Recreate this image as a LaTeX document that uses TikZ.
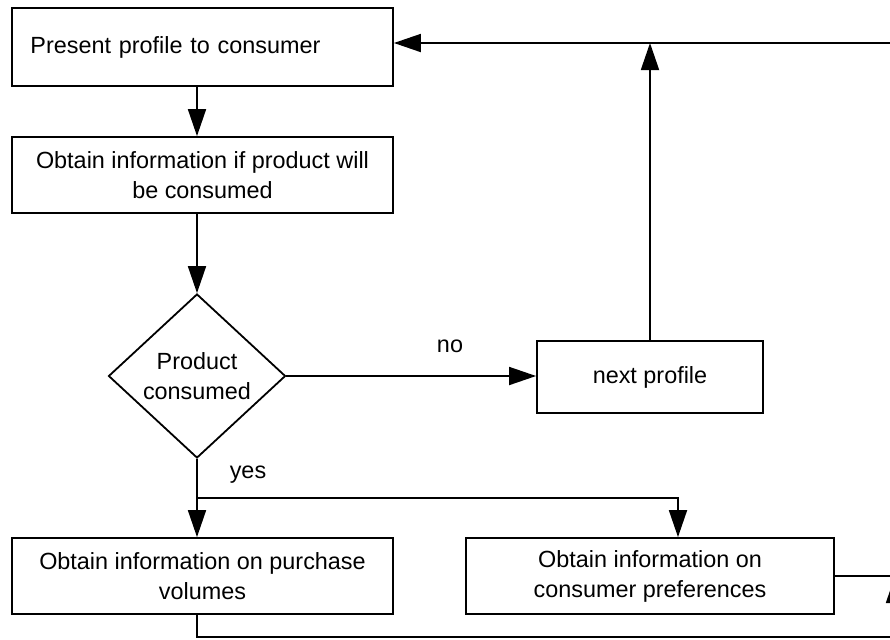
\documentclass[tikz,border=0pt]{standalone}
\usepackage{fontspec}
\setmainfont{Liberation Sans}
\usetikzlibrary{shapes.geometric}
\usetikzlibrary{arrows.meta}
\tikzset{box/.style={draw, line width=0.9pt, rectangle, inner sep=0pt, align=center,
  font=\fontsize{11.7}{15}\selectfont},
  lbl/.style={font=\fontsize{11.7}{15}\selectfont},
  arr/.style={line width=0.9pt, -{Triangle[length=13.5pt, width=9pt]}},
  ln/.style={line width=0.9pt}}

\begin{document}
\begin{tikzpicture}[x=0.5pt, y=-0.5pt]
	\useasboundingbox (0,0) rectangle (890,639);

	\node[box, minimum width=190.5pt, minimum height=39pt, text width=172pt, align=left] (present) at (202.5,47) {Present profile to consumer};
	\node[box, minimum width=190.5pt, minimum height=38pt] (obtain) at (202.5,175) {Obtain information if product will\\ be consumed};
	\node[box, diamond, minimum width=88.5pt, minimum height=82pt] (consumed) at (197,376) {Product\\ consumed};
	\node[box, minimum width=113pt, minimum height=36pt] (next) at (650,377) {next profile};
	\node[box, minimum width=190.5pt, minimum height=38pt] (volumes) at (202.5,576) {Obtain information on purchase\\ volumes};
	\node[box, minimum width=184pt, minimum height=38pt] (prefs) at (650,576) {Obtain information on\\ consumer preferences};

	\node[lbl] (no) at (450,346) {no};
	\node[lbl] (yes) at (248,475) {yes};

	\coordinate (loop) at (890,43);
	\coordinate (split) at (197,498);
	\coordinate (bend) at (678,498);
	\coordinate (back) at (895,637);
	\coordinate (out) at (905,576);

	\draw[arr] (present.south -| consumed.north) -- (obtain.north -| consumed.north);
	\draw[arr] (obtain.south -| consumed.north) -- (consumed.north);
	\draw[arr] (consumed.east) -- (consumed.east -| next.west);
	\draw[arr] (next.north) -- (next.north |- loop);
	\draw[arr] (loop) -- (loop -| present.east);
	\draw[arr] (consumed.south) -- (volumes.north -| consumed.south);
	\draw[arr] (split) -- (bend) -- (bend |- prefs.north);
	\draw[ln] (prefs.east) -- (out);
	\draw[arr] (volumes.south -| consumed.south) -- (consumed.south |- back) -- (back) -- (back |- out);
\end{tikzpicture}
\end{document}
